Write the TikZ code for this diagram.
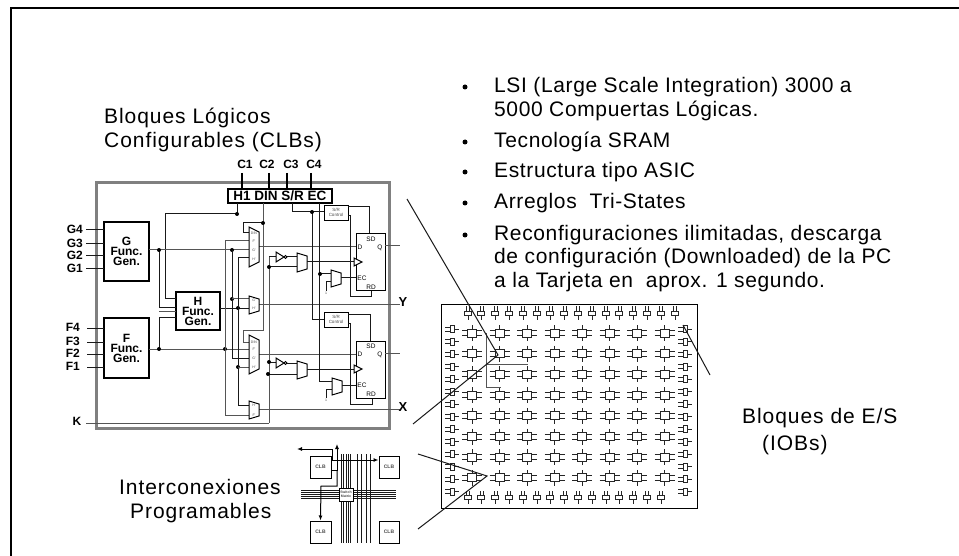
\documentclass[tikz,border=0pt]{standalone}
\usepackage{fontspec}
\setmainfont{Liberation Sans}
\newfontfamily\bigfont[LetterSpace=4.5]{Liberation Sans}
\newfontfamily\listfont[LetterSpace=3]{Liberation Sans}
\usetikzlibrary{arrows.meta,calc,positioning}
\definecolor{framegray}{HTML}{808080}
\definecolor{wiregray}{HTML}{555555}
\tikzset{
  frameline/.style={line width=2pt,black},
  clbframe/.style={line width=3pt,framegray},
  wire/.style={line width=1pt,black!90},
  greywire/.style={line width=1pt,wiregray},
  dotnode/.style={circle,fill=black,inner sep=0pt,minimum size=4pt},
  funcbox/.style={draw,line width=1.2pt,align=center,font=\bfseries\fontsize{12}{10}\selectfont,inner sep=0pt},
  pinlabel/.style={font=\bfseries\fontsize{12}{12}\selectfont,inner sep=0pt},
  bigtext/.style={font=\bigfont\fontsize{21}{21}\selectfont,inner sep=0pt,anchor=west},
  listtext/.style={font=\listfont\fontsize{21}{21}\selectfont,inner sep=0pt,anchor=west},
  tinytext/.style={font=\fontsize{3.5}{3.5}\selectfont,inner sep=0pt,text=black!70},
  fftext/.style={font=\fontsize{6.5}{6.5}\selectfont,inner sep=0pt},
  ffbox/.style={draw,line width=1pt,fill=white},
  ctrlbox/.style={draw,line width=0.9pt,fill=white,align=center,font=\fontsize{4.5}{5}\selectfont,text=black!70,inner sep=0pt},
  clbsmall/.style={draw,line width=1pt,fill=white,font=\rmfamily\bfseries\fontsize{5}{5}\selectfont,text=black!70,inner sep=0pt},
  cellwire/.style={line width=1pt,black!85},
  routearrow/.style={-{Latex[length=5pt,width=4pt]},line width=1pt}
}
\newcommand{\muxshape}[5]{% name, x, y top-left, y bottom-left, inset
  \draw[line width=1pt,fill=white] (#2,#3) -- (#2+10,#3+#5) -- (#2+10,#4-#5) -- (#2,#4) -- cycle;
  \coordinate (#1) at (#2+10,{(#3+#4)/2});
}
\begin{document}
\begin{tikzpicture}[x=1pt,y=-1pt]
  \useasboundingbox (0,0) rectangle (959,556);
  % outer frame
  \draw[frameline] (11,556) -- (11,8.5) -- (959,8.5);

  % texts
  \node[bigtext] (titleclb) at (104,118) {Bloques Lógicos};
  \node[bigtext] (titleclbb) at (104,142) {Configurables (CLBs)};
  \foreach \y/\t in {87/{LSI (Large Scale Integration) 3000 a},111/{5000 Compuertas Lógicas.},142/{Tecnología SRAM},172/{Estructura tipo ASIC},203/{Arreglos\ \ Tri-States},235/{Reconfiguraciones ilimitadas, descarga},258/{de configuración (Downloaded) de la PC},282/{a la Tarjeta en\ \ aprox. 1 segundo.}}
    \node[listtext] at (494,\y) {\t};
  \foreach \y in {87,142,172,203,235}
    \node[dotnode,minimum size=5pt] at (465,\y) {};
  \node[bigtext] (ioblabel) at (742,418) {Bloques de E/S};
  \node[bigtext] (ioblabelb) at (762,445) {(IOBs)};
  \node[bigtext] (intlabel) at (119,487) {Interconexiones};
  \node[bigtext] (intlabelb) at (130,513) {Programables};

  % CLB
  \draw[clbframe] (96,183) rectangle (389,428);
  \node[funcbox,minimum width=45pt,minimum height=59pt] (gbox) at (126.5,251.5) {G\\Func.\\Gen.};
  \node[funcbox,minimum width=45pt,minimum height=60pt] (fbox) at (126.5,348) {F\\Func.\\Gen.};
  \node[funcbox,minimum width=44pt,minimum height=38pt] (hbox) at (198,311) {H\\Func.\\Gen.};
  \foreach \y/\t in {230/G4,244/G3,256/G2,269/G1}{
    \node[pinlabel,anchor=east] at (83,\y-1) {\t};
    \draw[wire] (86,\y) -- (104,\y);
  }
  \foreach \y/\t in {328/F4,342/F3,354/F2,367/F1}{
    \node[pinlabel,anchor=east] at (80,\y-1) {\t};
    \draw[wire] (87,\y) -- (104,\y);
  }
  \node[pinlabel] (klabel) at (77,421) {K};
  \draw[greywire] (86,423) -- (269,423);
  \draw[greywire] (269,257) -- (269,423);

  % header
  \node[draw,line width=1.2pt,fill=white,minimum width=104pt,minimum height=14pt,inner sep=0pt,font=\bfseries\fontsize{13.5}{13.5}\selectfont] (hdr) at (280,196) {H1 DIN S/R EC};
  \foreach \x/\u/\t in {242/245/C1,269/267/C2,287/291/C3,311/314/C4}{
    \node[pinlabel] at (\u,164) {\t};
    \draw[line width=1.2pt] (\x,173) -- (\x,189);
  }

  % left wires
  \draw[wire] (237,203) -- (237,214) -- (165,214) -- (165,299) -- (176,299);
  \node[dotnode] at (237,214) {};
  \draw[greywire] (149,250) -- (249,250);
  \draw[greywire] (149,349) -- (249,349);
  \draw[wire] (159,250) -- (159,307) -- (176,307);
  \draw[greywire] (159,311) -- (176,311);
  \draw[wire] (159,349) -- (159,317) -- (176,317);
  \draw[wire] (220,308) -- (249,308);
  \foreach \x/\y in {159/250,159/349,225/349,232/250,232/299,238/308,238/367}
    \node[dotnode] at (\x,\y) {};
  \draw[greywire] (249,241) -- (225,241) -- (225,415) -- (249,415);
  \draw[wire] (232,250) -- (232,358) -- (249,358);
  \draw[greywire] (232,299) -- (249,299);
  \draw[wire] (249,258) -- (238,258) -- (238,405) -- (249,405);
  \draw[greywire] (238,367) -- (249,367);
  \draw[greywire] (263,203) -- (263,330) -- (243,330) -- (243,342) -- (249,342);
  \draw[wire] (263,223) -- (243,223) -- (243,233) -- (249,233);
  \node[dotnode] at (263,223) {};

  % outputs of the muxes
  \draw[greywire] (259,247) -- (356,247);
  \draw[greywire] (259,304) -- (400,304);
  \draw[greywire] (259,354) -- (356,354);
  \draw[greywire] (259,409) -- (400,409);
  \node[pinlabel,font=\bfseries\fontsize{13}{13}\selectfont] (ylabel) at (403,302) {Y};
  \node[pinlabel,font=\bfseries\fontsize{13}{13}\selectfont] (xlabel) at (403,407) {X};

  \muxshape{muxa}{249}{227}{267}{5}
  \muxshape{muxb}{249}{296}{314}{3}
  \muxshape{muxc}{249}{335}{374}{5}
  \muxshape{muxd}{249}{401}{419}{3}
  \foreach \y/\t in {233/DIN,241/F',250/G',259/H',342/DIN,349/F',358/G',367/H',300/G',308/H',405/H',415/F'}
    \node[tinytext] at (254,\y) {\t};

  % control wires
  \draw[wire] (292,203) -- (292,212) -- (324,212);
  \draw[wire] (312,212) -- (312,319) -- (324,319);
  \node[dotnode] at (312,212) {};
  \draw[wire] (319,203) -- (319,381) -- (332,381);
  \draw[wire] (319,274) -- (331,274);
  \node[dotnode] at (320,274) {};
  \node[ctrlbox,minimum width=24pt,minimum height=15pt] (srtop) at (336,212.5) {S/R\\Control};
  \node[ctrlbox,minimum width=24pt,minimum height=15pt] (srbot) at (336,319.5) {S/R\\Control};

  % flip-flops
  \draw[wire] (348,207) -- (369,207) -- (369,234);
  \draw[wire] (348,216) -- (350,216) -- (350,297) -- (371,297) -- (371,291);
  \draw[wire] (348,314) -- (370,314) -- (370,341);
  \draw[wire] (348,323) -- (350,323) -- (350,404) -- (372,404) -- (372,398);
  \node[ffbox,minimum width=29pt,minimum height=57pt] (fftop) at (370.5,262.5) {};
  \node[ffbox,minimum width=29pt,minimum height=57pt] (ffbot) at (370.5,369.5) {};
  \foreach \y/\o in {0/fftop,107/ffbot}{
    \node[fftext] at (371,239+\y) {SD};
    \node[fftext] at (360,247.5+\y) {D};
    \node[fftext] at (380,247.5+\y) {Q};
    \node[fftext] at (362,278+\y) {EC};
    \node[fftext] at (371,287.5+\y) {RD};
  }
  \draw[greywire] (385,246) -- (400,246);
  \draw[greywire] (385,353) -- (400,353);

  % clock inverters and muxes
  \draw[wire] (269,257) -- (276,257);
  \draw[wire] (269,362) -- (276,362);
  \draw[wire] (269,267) -- (297,267);
  \draw[wire] (269,374) -- (297,374);
  \foreach \x/\y in {269/267,269/362,268/374}
    \node[dotnode] at (\x,\y) {};
  \foreach \y in {257,363}{
    \draw[line width=1pt,fill=white] (276,\y-5) -- (284,\y) -- (276,\y+5) -- cycle;
    \draw[line width=0.8pt,fill=white] (285.5,\y) circle (1.5);
    \draw[wire] (287,\y) -- (297,\y);
  }
  \muxshape{clkmuxa}{297}{253}{272}{3}
  \muxshape{clkmuxb}{297}{361}{379}{3}
  \draw[wire] (307,262) -- (354,262);
  \draw[wire] (307,369) -- (354,369);
  \foreach \y in {262,369}
    \draw[line width=1pt,fill=white] (354,\y-4) -- (362,\y) -- (354,\y+4) -- cycle;

  % enable muxes
  \draw[wire] (326,291) -- (326,282) -- (331,282);
  \draw[wire] (326,398) -- (326,389) -- (332,389);
  \muxshape{enmuxa}{331}{270}{287}{3}
  \muxshape{enmuxb}{332}{378}{395}{3}
  \draw[wire] (341,278) -- (356,278);
  \draw[wire] (342,385) -- (356,385);
  \node[tinytext] at (326,293) {1};
  \node[tinytext] at (326,400) {1};

  % array of IOBs and CLBs
  \draw[line width=1pt] (441,304) rectangle (697,508);
  \draw[cellwire] \foreach \x in {468,481.8,495.6,509.4,523.2,537,550.8,564.6,578.4,592.2,606,619.8,633.6,647.4,661.2,675}{
    (\x-4,311) rectangle (\x+3,315) (\x-1.5,306) -- (\x-1.5,311) (\x+1.5,306) -- (\x+1.5,311) (\x,315) -- (\x,320)};
  \draw[cellwire] \foreach \x in {468,481.8,495.6,509.4,523.2,537,550.8,564.6,578.4,592.2,606,619.8,633.6,647.4,661.2}{
    (\x-4,495) rectangle (\x+3,499) (\x-1.5,491) -- (\x-1.5,495) (\x+1.5,491) -- (\x+1.5,495) (\x,499) -- (\x,504)};
  \draw[cellwire] \foreach \x in {452,685}{\foreach \y in {329,341.5,354,366.5,379,391.5,404,416.5,429,441.5,454,466.5,479,491.5}{
    (\x-2,\y-3.5) rectangle (\x+2,\y+3.5) (\x-7,\y-2) -- (\x-2,\y-2) (\x-7,\y+2) -- (\x-2,\y+2) (\x+2,\y) -- (\x+7,\y)}};
  \draw[cellwire] \foreach \x in {472,499.5,527,554.5,582,609.5,637,664.5}{\foreach \y in {333,353.7,374.4,395.1,415.8,436.5,457.2,477.9}{
    (\x-4.5,\y-4) rectangle (\x+4.5,\y+4) (\x,\y-8) -- (\x,\y-4) (\x,\y+4) -- (\x,\y+8)
    (\x-10,\y-2.5) -- (\x-4.5,\y-2.5) (\x-10,\y+2.5) -- (\x-4.5,\y+2.5)
    (\x+4.5,\y-2.5) -- (\x+10,\y-2.5) (\x+4.5,\y+2.5) -- (\x+10,\y+2.5)}};
  \draw[greywire] (486,333) -- (486,387) -- (501,387);
  \draw[greywire] (486,364) -- (528,364);

  % pointers
  \coordinate (ptclb) at (498,355);
  \coordinate (ptint) at (487,476);
  \coordinate (ptiob) at (683,325);
  \draw[wire] (407,199) -- (ptclb) -- (413,424);
  \draw[wire] (418,454) -- (ptint) -- (418,529);
  \draw[wire] (ptiob) -- (710,375);

  % interconnect detail
  \foreach \x in {341,343,346,348,350,357,361,366,370}
    \draw[wire] (\x,454) -- (\x,543);
  \foreach \y in {490,492,494,496,498}
    \draw[wire] (301,\y) -- (396,\y);
  \node[clbsmall,minimum width=21pt,minimum height=22pt] (clba) at (320.5,467) {CLB};
  \node[clbsmall,minimum width=20pt,minimum height=22pt] (clbb) at (389,467) {CLB};
  \node[clbsmall,minimum width=21pt,minimum height=22pt] (clbc) at (320.5,532) {CLB};
  \node[clbsmall,minimum width=20pt,minimum height=22pt] (clbd) at (389,532) {CLB};
  \node[clbsmall,minimum width=14pt,minimum height=13pt,align=center,font=\rmfamily\bfseries\fontsize{3.5}{4}\selectfont] (swbox) at (346,494.5) {Switch\\Matrix};
  \draw[routearrow] (clba.east |- 0,460) -- (clbb.west |- 0,460);
  \draw[routearrow] (332,460) -- (332,449) -- (297,449);
  \draw[routearrow] (331,470) -- (337,470) -- (337,444);
  \draw[routearrow] (337,470) -- (337,486) -- (321,486) -- (clbc.north);
\end{tikzpicture}
\end{document}
